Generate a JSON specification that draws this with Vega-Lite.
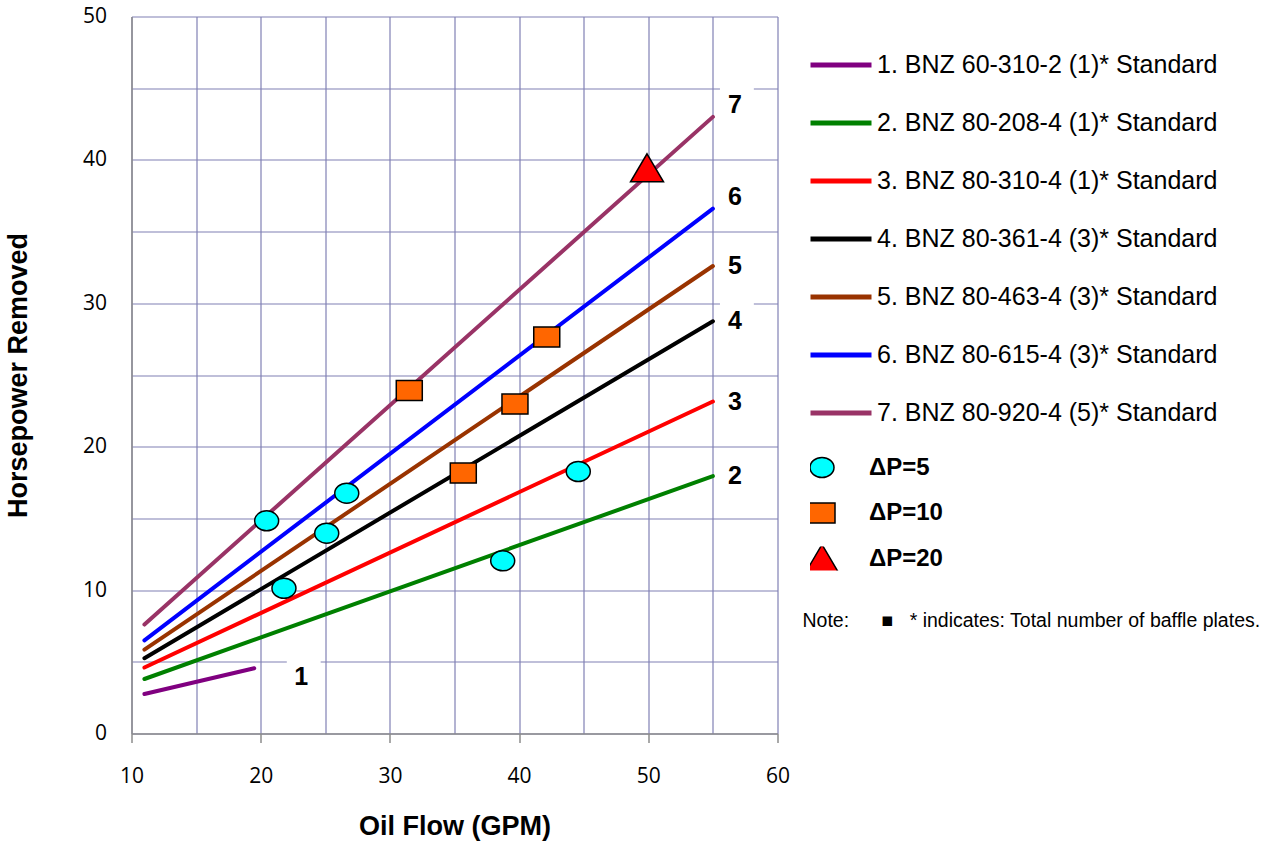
{
  "$schema": "https://vega.github.io/schema/vega-lite/v6.json",
  "width": 646,
  "height": 717,
  "autosize": {"type": "none"},
  "padding": {"left": 131.5, "top": 16.5, "right": 488.5, "bottom": 108.5},
  "background": "white",
  "config": {"view": {"stroke": null}, "font": "Liberation Sans"},
  "title": {
    "text": "Note:\u00a0\u00a0\u00a0\u00a0\u00a0\u00a0■\u00a0\u00a0\u00a0* indicates: Total number of baffle plates.",
    "orient": "top",
    "anchor": "start",
    "frame": "group",
    "offset": -626,
    "dx": 671,
    "font": "Liberation Sans",
    "fontSize": 19.5,
    "fontWeight": "normal",
    "color": "black"
  },
  "datasets": {
    "lines": [
      {"series": "1. BNZ 60-310-2 (1)* Standard", "id": 1, "x": 11, "y": 2.75},
      {"series": "1. BNZ 60-310-2 (1)* Standard", "id": 1, "x": 19.5, "y": 4.55},
      {"series": "2. BNZ 80-208-4 (1)* Standard", "id": 2, "x": 11, "y": 3.8},
      {"series": "2. BNZ 80-208-4 (1)* Standard", "id": 2, "x": 55, "y": 17.95},
      {"series": "3. BNZ 80-310-4 (1)* Standard", "id": 3, "x": 11, "y": 4.6},
      {"series": "3. BNZ 80-310-4 (1)* Standard", "id": 3, "x": 55, "y": 23.15},
      {"series": "4. BNZ 80-361-4 (3)* Standard", "id": 4, "x": 11, "y": 5.25},
      {"series": "4. BNZ 80-361-4 (3)* Standard", "id": 4, "x": 55, "y": 28.75},
      {"series": "5. BNZ 80-463-4 (3)* Standard", "id": 5, "x": 11, "y": 5.85},
      {"series": "5. BNZ 80-463-4 (3)* Standard", "id": 5, "x": 55, "y": 32.6},
      {"series": "6. BNZ 80-615-4 (3)* Standard", "id": 6, "x": 11, "y": 6.5},
      {"series": "6. BNZ 80-615-4 (3)* Standard", "id": 6, "x": 55, "y": 36.6},
      {"series": "7. BNZ 80-920-4 (5)* Standard", "id": 7, "x": 11, "y": 7.6},
      {"series": "7. BNZ 80-920-4 (5)* Standard", "id": 7, "x": 55, "y": 43.0}
    ],
    "pts": [
      {"dp": "ΔP=5", "x": 20.46, "y": 14.83},
      {"dp": "ΔP=5", "x": 21.8, "y": 10.13},
      {"dp": "ΔP=5", "x": 25.11, "y": 13.97},
      {"dp": "ΔP=5", "x": 26.66, "y": 16.76},
      {"dp": "ΔP=5", "x": 38.73, "y": 12.04},
      {"dp": "ΔP=5", "x": 44.58, "y": 18.27},
      {"dp": "ΔP=10", "x": 31.5, "y": 23.92},
      {"dp": "ΔP=10", "x": 35.68, "y": 18.16},
      {"dp": "ΔP=10", "x": 39.68, "y": 22.97},
      {"dp": "ΔP=10", "x": 42.14, "y": 27.65},
      {"dp": "ΔP=20", "x": 49.9, "y": 39.45}
    ]
  },
  "layer": [
    {
      "data": {"name": "lines"},
      "transform": [
        {"joinaggregate": [{"op": "max", "field": "x", "as": "xmax"}], "groupby": ["series"]},
        {"filter": "datum.x === datum.xmax"}
      ],
      "encoding": {
        "x": {
          "field": "x",
          "type": "quantitative",
          "scale": {"domain": [10, 60], "nice": false, "zero": false},
          "axis": {
            "values": [10, 15, 20, 25, 30, 35, 40, 45, 50, 55, 60],
            "labelExpr": "datum.value % 10 === 0 ? datum.label : ''",
            "grid": true,
            "gridColor": "#8080B4",
            "gridWidth": 1.2,
            "domainColor": "#8C8C8C",
            "domainWidth": 1.5,
            "tickColor": "#8C8C8C",
            "tickSize": 9,
            "tickWidth": 1.5,
            "tickOpacity": {"condition": {"test": "datum.value % 10 === 0", "value": 1}, "value": 0},
            "labelFont": "Open Sans",
            "labelFontSize": 21,
            "labelColor": "black",
            "labelPadding": 23,
            "labelFlush": false,
            "labelOverlap": false,
            "title": "Oil Flow (GPM)",
            "titleFont": "Liberation Sans",
            "titleFontSize": 27,
            "titleFontWeight": "bold",
            "titleColor": "black",
            "titlePadding": 27
          }
        },
        "y": {
          "field": "y",
          "type": "quantitative",
          "scale": {"domain": [0, 50], "nice": false, "zero": false},
          "axis": {
            "values": [0, 5, 10, 15, 20, 25, 30, 35, 40, 45, 50],
            "labelExpr": "datum.value % 10 === 0 ? datum.label : ''",
            "grid": true,
            "gridColor": "#8080B4",
            "gridWidth": 1.2,
            "domainColor": "#8C8C8C",
            "domainWidth": 1.5,
            "ticks": false,
            "labelFont": "Open Sans",
            "labelFontSize": 21,
            "labelColor": "black",
            "labelPadding": 25,
            "labelFlush": false,
            "labelOverlap": false,
            "title": "Horsepower Removed",
            "titleFont": "Liberation Sans",
            "titleFontSize": 27,
            "titleFontWeight": "bold",
            "titleColor": "black",
            "titlePadding": 50
          }
        }
      },
      "layer": [
        {
          "transform": [{"filter": "datum.id >= 2 && datum.id <= 5"}],
          "mark": {"type": "point", "shape": "M-0.77,-1H0.77V1H-0.77Z", "filled": true, "fill": "white", "strokeWidth": 0, "opacity": 1, "size": 1936, "xOffset": 24}
        },
        {
          "transform": [{"filter": "datum.id >= 6"}],
          "mark": {"type": "point", "shape": "M-0.77,-1H0.77V1H-0.77Z", "filled": true, "fill": "white", "strokeWidth": 0, "opacity": 1, "size": 1936, "xOffset": 24, "yOffset": -12}
        },
        {
          "transform": [{"filter": "datum.id === 1"}],
          "mark": {"type": "point", "shape": "M-0.77,-1H0.77V1H-0.77Z", "filled": true, "fill": "white", "strokeWidth": 0, "opacity": 1, "size": 1936, "xOffset": 49.5, "yOffset": 9}
        },
        {
          "transform": [{"filter": "datum.id >= 2 && datum.id <= 5"}],
          "mark": {"type": "text", "font": "Liberation Sans", "fontWeight": "bold", "fontSize": 25, "color": "black", "align": "center", "baseline": "middle", "dx": 22},
          "encoding": {"text": {"field": "id", "type": "nominal"}}
        },
        {
          "transform": [{"filter": "datum.id >= 6"}],
          "mark": {"type": "text", "font": "Liberation Sans", "fontWeight": "bold", "fontSize": 25, "color": "black", "align": "center", "baseline": "middle", "dx": 22, "dy": -12},
          "encoding": {"text": {"field": "id", "type": "nominal"}}
        },
        {
          "transform": [{"filter": "datum.id === 1"}],
          "mark": {"type": "text", "font": "Liberation Sans", "fontWeight": "bold", "fontSize": 25, "color": "black", "align": "center", "baseline": "middle", "dx": 47, "dy": 9},
          "encoding": {"text": {"field": "id", "type": "nominal"}}
        }
      ]
    },
    {
      "data": {"name": "lines"},
      "mark": {"type": "line", "strokeWidth": 4, "strokeCap": "round"},
      "encoding": {
        "x": {"field": "x", "type": "quantitative"},
        "y": {"field": "y", "type": "quantitative"},
        "stroke": {
          "field": "series",
          "type": "nominal",
          "scale": {
            "domain": [
              "1. BNZ 60-310-2 (1)* Standard",
              "2. BNZ 80-208-4 (1)* Standard",
              "3. BNZ 80-310-4 (1)* Standard",
              "4. BNZ 80-361-4 (3)* Standard",
              "5. BNZ 80-463-4 (3)* Standard",
              "6. BNZ 80-615-4 (3)* Standard",
              "7. BNZ 80-920-4 (5)* Standard"
            ],
            "range": ["#800080", "#008000", "#FF0000", "#000000", "#993300", "#0000FF", "#993366"]
          },
          "legend": {
            "orient": "none",
            "legendX": 676.5,
            "legendY": 38.5,
            "title": null,
            "symbolType": "stroke",
            "symbolSize": 3721,
            "symbolStrokeWidth": 5,
            "clipHeight": 20,
            "rowPadding": 33,
            "labelFont": "Liberation Sans",
            "labelFontSize": 25,
            "labelColor": "black",
            "labelOffset": 3,
            "labelLimit": 0,
            "padding": 0
          }
        }
      }
    },
    {
      "data": {"name": "pts"},
      "mark": {"type": "point", "filled": true, "stroke": "black", "strokeWidth": 1.5, "opacity": 1, "size": 400},
      "encoding": {
        "x": {"field": "x", "type": "quantitative"},
        "y": {"field": "y", "type": "quantitative"},
        "shape": {
          "field": "dp",
          "type": "nominal",
          "scale": {
            "domain": ["ΔP=5", "ΔP=10", "ΔP=20"],
            "range": ["M-1.2,0A1.2,1,0,1,1,1.2,0A1.2,1,0,1,1,-1.2,0Z", "M-1.3,-1H1.3V1H-1.3Z", "M0,-1.4L1.65,1.4H-1.65Z"]
          },
          "legend": {
            "orient": "none",
            "legendX": 678.5,
            "legendY": 439,
            "title": null,
            "symbolSize": 400,
            "clipHeight": 24,
            "rowPadding": 21.5,
            "labelFont": "Liberation Sans",
            "labelFontSize": 24,
            "labelFontWeight": "bold",
            "labelColor": "black",
            "labelOffset": 35,
            "labelLimit": 0,
            "padding": 0,
            "encode": {"symbols": {"update": {"stroke": {"value": "black"}, "strokeWidth": {"value": 1.5}}}}
          }
        },
        "fill": {
          "field": "dp",
          "type": "nominal",
          "scale": {
            "domain": ["ΔP=5", "ΔP=10", "ΔP=20"],
            "range": ["#00FFFF", "#FF6600", "#FF0000"]
          },
          "legend": {
            "orient": "none",
            "legendX": 678.5,
            "legendY": 439,
            "title": null,
            "symbolSize": 400,
            "clipHeight": 24,
            "rowPadding": 21.5,
            "labelFont": "Liberation Sans",
            "labelFontSize": 24,
            "labelFontWeight": "bold",
            "labelColor": "black",
            "labelOffset": 35,
            "labelLimit": 0,
            "padding": 0,
            "encode": {"symbols": {"update": {"stroke": {"value": "black"}, "strokeWidth": {"value": 1.5}}}}
          }
        }
      }
    }
  ]
}
